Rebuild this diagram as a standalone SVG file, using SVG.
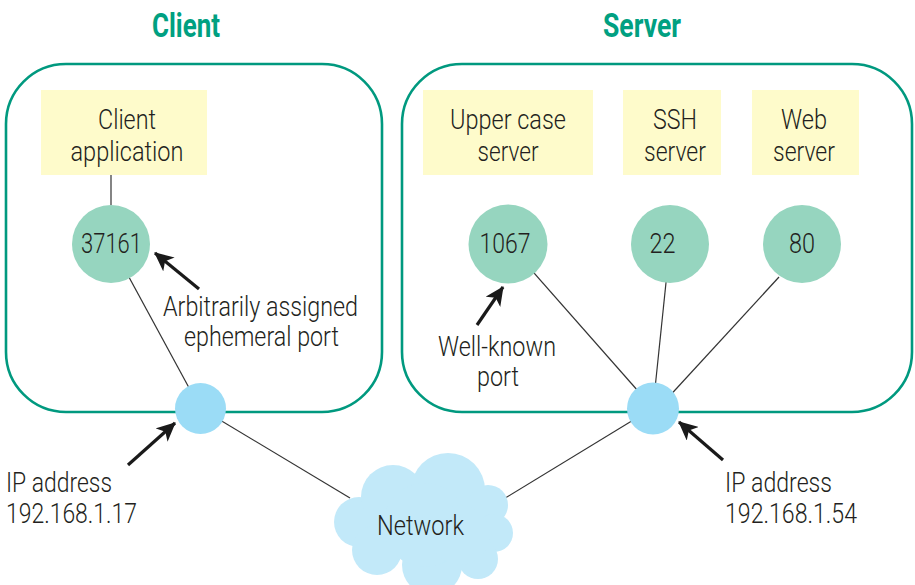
<svg xmlns="http://www.w3.org/2000/svg" width="915" height="585" viewBox="0 0 915 585">
  <defs>
    <style>
      .lbl { font-family: Roboto, "Liberation Sans", sans-serif; font-weight: 300; font-size: 28px; fill: #231f20; }
      .ip { font-size: 27px; }
      .num { font-family: Roboto, "Liberation Sans", sans-serif; font-weight: 300; font-size: 28px; fill: #231f20; }
      .hdr { font-family: Roboto, "Liberation Sans", sans-serif; font-weight: 700; font-size: 33px; fill: #00a081; }
      .host { fill: none; stroke: #00997f; stroke-width: 2.6; }
      .app { fill: #fefbcb; }
      .port { fill: #96d5bf; }
      .nic { fill: #9bdcf6; }
      .wire { stroke: #333; stroke-width: 1.2; fill: none; }
      .pointer { stroke: #1a1a1a; stroke-width: 3.2; fill: none; marker-end: url(#head); }
    </style>
    <marker id="head" markerUnits="userSpaceOnUse" markerWidth="20" markerHeight="18" refX="18" refY="9" orient="auto">
      <path d="M0,0 L19,9 L0,18 L5,9 Z" fill="#1a1a1a"/>
    </marker>
  </defs>

  <rect width="915" height="585" fill="#ffffff"/>

  <!-- host outlines and titles -->
  <g id="client-host">
    <rect class="host" x="6" y="64" width="376" height="348" rx="60" ry="60"/>
    <text class="hdr" x="186" y="37" text-anchor="middle" textLength="68" lengthAdjust="spacingAndGlyphs">Client</text>
  </g>
  <g id="server-host">
    <rect class="host" x="402" y="64" width="510" height="348" rx="60" ry="60"/>
    <text class="hdr" x="642" y="37" text-anchor="middle" textLength="78" lengthAdjust="spacingAndGlyphs">Server</text>
  </g>

  <!-- connectors -->
  <g id="connectors">
    <line class="wire" x1="111" y1="175" x2="111" y2="205"/>
    <line class="wire" x1="111" y1="244" x2="200" y2="408"/>
    <line class="wire" x1="200" y1="408" x2="350" y2="498"/>
    <line class="wire" x1="653" y1="408" x2="502" y2="500"/>
    <line class="wire" x1="512" y1="248" x2="653" y2="408"/>
    <line class="wire" x1="670" y1="244" x2="653" y2="408"/>
    <line class="wire" x1="779" y1="277" x2="665" y2="401"/>

    <line class="pointer" x1="199" y1="289" x2="155" y2="253"/>
    <line class="pointer" x1="477" y1="325" x2="503" y2="287"/>
    <line class="pointer" x1="128" y1="465" x2="175" y2="423"/>
    <line class="pointer" x1="723" y1="460" x2="679" y2="422"/>
  </g>

  <!-- applications -->
  <g id="client-app">
    <rect class="app" x="41" y="90" width="166" height="85"/>
    <text class="lbl" x="127" y="129" text-anchor="middle" textLength="58" lengthAdjust="spacingAndGlyphs">Client</text>
    <text class="lbl" x="127" y="161" text-anchor="middle" textLength="113" lengthAdjust="spacingAndGlyphs">application</text>
  </g>
  <g id="upper-case-server">
    <rect class="app" x="423" y="90" width="170" height="85"/>
    <text class="lbl" x="508" y="129" text-anchor="middle" textLength="116" lengthAdjust="spacingAndGlyphs">Upper case</text>
    <text class="lbl" x="508" y="161" text-anchor="middle" textLength="61" lengthAdjust="spacingAndGlyphs">server</text>
  </g>
  <g id="ssh-server">
    <rect class="app" x="623" y="90" width="98" height="85"/>
    <text class="lbl" x="675" y="129" text-anchor="middle" textLength="44" lengthAdjust="spacingAndGlyphs">SSH</text>
    <text class="lbl" x="675" y="161" text-anchor="middle" textLength="62" lengthAdjust="spacingAndGlyphs">server</text>
  </g>
  <g id="web-server">
    <rect class="app" x="752" y="90" width="107" height="85"/>
    <text class="lbl" x="804" y="129" text-anchor="middle" textLength="46" lengthAdjust="spacingAndGlyphs">Web</text>
    <text class="lbl" x="804" y="161" text-anchor="middle" textLength="62" lengthAdjust="spacingAndGlyphs">server</text>
  </g>

  <!-- ports -->
  <g id="port-37161">
    <circle class="port" cx="111" cy="244" r="39"/>
    <text class="num" x="111.5" y="253" text-anchor="middle" textLength="61" lengthAdjust="spacingAndGlyphs">37161</text>
  </g>
  <g id="port-1067">
    <circle class="port" cx="508" cy="244" r="39.5"/>
    <text class="num" x="505" y="253" text-anchor="middle" textLength="51" lengthAdjust="spacingAndGlyphs">1067</text>
  </g>
  <g id="port-22">
    <circle class="port" cx="670" cy="244" r="39"/>
    <text class="num" x="662.5" y="253" text-anchor="middle" textLength="26" lengthAdjust="spacingAndGlyphs">22</text>
  </g>
  <g id="port-80">
    <circle class="port" cx="802" cy="244" r="39"/>
    <text class="num" x="802" y="253" text-anchor="middle" textLength="26" lengthAdjust="spacingAndGlyphs">80</text>
  </g>

  <!-- network interfaces -->
  <g id="client-nic">
    <circle class="nic" cx="200.5" cy="408.5" r="25.5"/>
  </g>
  <g id="server-nic">
    <circle class="nic" cx="653" cy="408.5" r="26"/>
  </g>

  <!-- network cloud: overlapping puffs -->
  <g id="network" fill="#c2e9f9">
    <circle cx="359" cy="522" r="25"/>
    <circle cx="393" cy="497" r="32"/>
    <circle cx="448" cy="490" r="37"/>
    <circle cx="488" cy="505" r="20"/>
    <circle cx="494" cy="533" r="19"/>
    <circle cx="478" cy="559" r="20"/>
    <circle cx="432" cy="565" r="30"/>
    <circle cx="377" cy="550" r="25"/>
    <circle cx="425" cy="525" r="42"/>
    <circle cx="460" cy="535" r="30"/>
    <text class="lbl" x="420.5" y="535" text-anchor="middle" textLength="87" lengthAdjust="spacingAndGlyphs">Network</text>
  </g>

  <!-- annotations -->
  <g id="notes">
    <text class="lbl" x="260.5" y="316" text-anchor="middle" textLength="195" lengthAdjust="spacingAndGlyphs">Arbitrarily assigned</text>
    <text class="lbl" x="261.5" y="346" text-anchor="middle" textLength="155" lengthAdjust="spacingAndGlyphs">ephemeral port</text>
    <text class="lbl" x="497" y="356" text-anchor="middle" textLength="118" lengthAdjust="spacingAndGlyphs">Well-known</text>
    <text class="lbl" x="498" y="386" text-anchor="middle" textLength="42" lengthAdjust="spacingAndGlyphs">port</text>
    <text class="lbl ip" x="6" y="492" textLength="106" lengthAdjust="spacingAndGlyphs">IP address</text>
    <text class="lbl ip" x="6" y="523" textLength="131" lengthAdjust="spacingAndGlyphs">192.168.1.17</text>
    <text class="lbl ip" x="725" y="492" textLength="107" lengthAdjust="spacingAndGlyphs">IP address</text>
    <text class="lbl ip" x="725" y="523" textLength="132" lengthAdjust="spacingAndGlyphs">192.168.1.54</text>
  </g>
</svg>
